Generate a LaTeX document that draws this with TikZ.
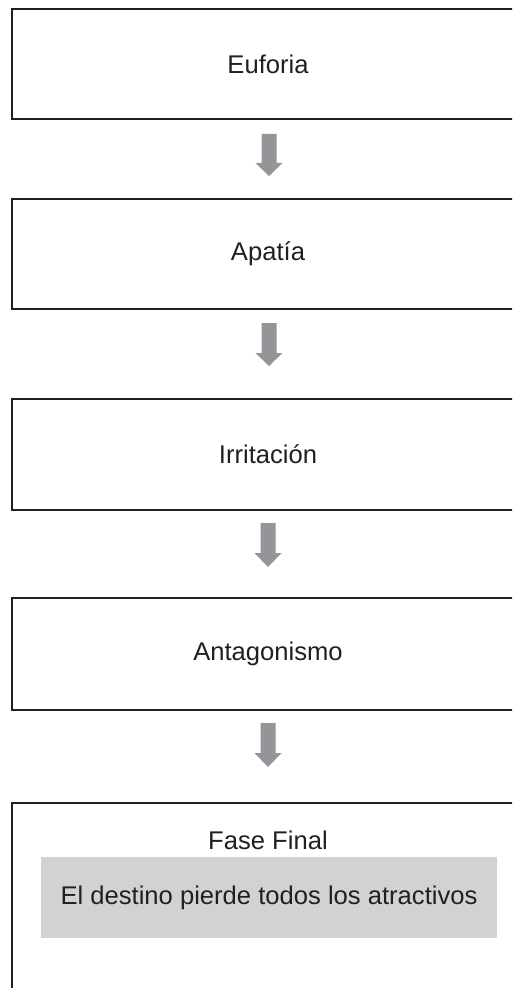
\documentclass[tikz,border=0pt]{standalone}
\usepackage{fontspec}
\setmainfont{Liberation Sans}
\usetikzlibrary{calc}
\definecolor{edge}{HTML}{231F20}
\definecolor{arrowgray}{HTML}{939598}
\definecolor{panelgray}{HTML}{D1D2D4}
\begin{document}
\begin{tikzpicture}[x=0.75pt,y=-0.75pt,
  txt/.style={inner sep=0pt,font=\fontsize{19.2pt}{23pt}\selectfont,text=edge},
  stagebox/.style={draw=edge,line width=1.5pt,fill=white,minimum width=441pt,inner sep=0pt},
  boxtext/.style={label={[txt,xshift=-28.5pt]center:#1}},
  blockarrow/.style={fill=arrowgray,draw=none},
  panel/.style={fill=panelgray,draw=none,minimum width=342pt,minimum height=60.75pt,inner sep=0pt,txt}]
\begin{scope}
\clip (0,0) rectangle (512,988);
\fill[white] (0,0) rectangle (512,988);
\node[stagebox,minimum height=82.5pt,boxtext=Euforia] (b1) at (306,64) {};
\node[stagebox,minimum height=82.5pt,boxtext=Apatía] (b2) at (306,254) {};
\node[stagebox,minimum height=83.25pt,boxtext=Irritación] (b3) at (306,454.5) {};
\node[stagebox,minimum height=84pt,boxtext=Antagonismo] (b4) at (306,654) {};
\node[stagebox,minimum height=155.25pt] (b5) at (306,906.5) {};
\node[txt] (f) at (268,840) {Fase Final};
\node[panel] (p) at (269,897.5) {El destino pierde todos los atractivos};
% block arrows between stages
\coordinate (a1) at (269,134);
\coordinate (a2) at (269,323);
\coordinate (a3) at (268,523);
\coordinate (a4) at (268,723);
\foreach \a/\hl/\tl in {a1/29/42,a2/30/43,a3/30/44,a4/30/44}{
  \fill[blockarrow] ($(\a)+(-7.5,0)$) -- ($(\a)+(7.5,0)$) -- ($(\a)+(7.5,\hl)$) -- ($(\a)+(13.5,\hl)$)
    -- ($(\a)+(0,\tl)$) -- ($(\a)+(-13.5,\hl)$) -- ($(\a)+(-7.5,\hl)$) -- cycle;
}
\end{scope}
\pgfresetboundingbox
\path[use as bounding box] (0,0) rectangle (512,988);
\end{tikzpicture}
\end{document}
